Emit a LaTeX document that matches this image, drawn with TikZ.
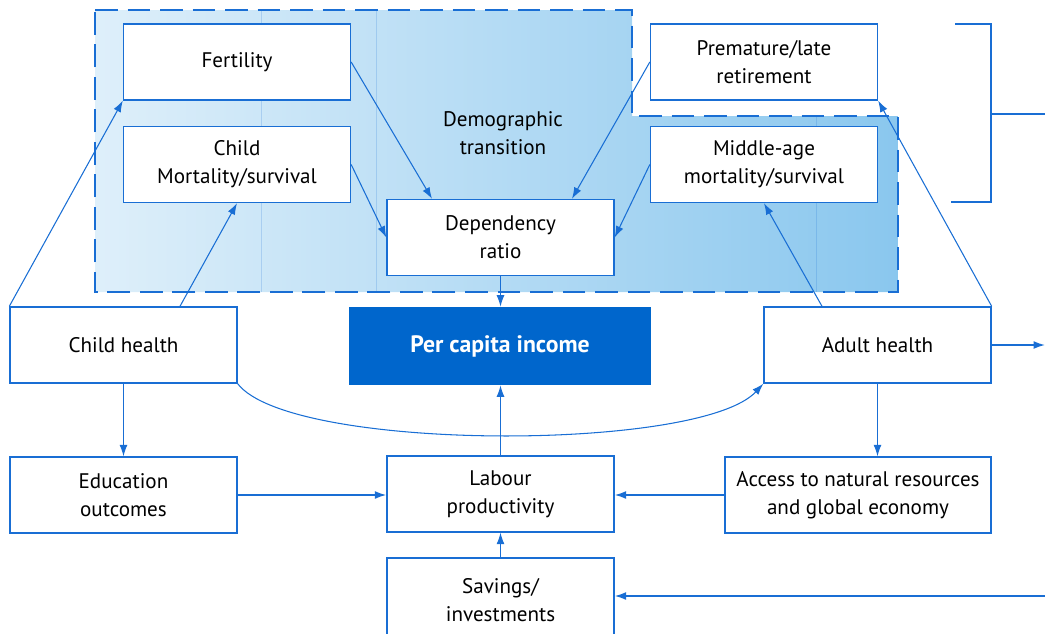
\documentclass[tikz,border=0pt]{standalone}
\usepackage{fontspec}
\setmainfont{PT Sans}
\usetikzlibrary{arrows.meta,positioning,calc}

\definecolor{lineblue}{RGB}{25,110,212}
\definecolor{incomeblue}{RGB}{0,102,204}
\definecolor{demlight}{RGB}{222,239,250}
\definecolor{demdark}{RGB}{138,199,238}

\tikzset{
  box/.style={draw=lineblue,line width=.8pt,fill=white,minimum width=4.54cm,minimum height=1.52cm,
    align=center,inner sep=2pt,font=\fontsize{12}{16}\selectfont},
  income/.style={fill=incomeblue,text=white,minimum width=6.04cm,minimum height=1.56cm,
    font=\fontsize{13.5}{16}\selectfont\bfseries},
  link/.style={draw=lineblue,line width=.6pt,-{Latex[length=6.5pt,width=4.5pt]}},
  thicklink/.style={link,line width=.9pt},
}

\begin{document}
\begin{tikzpicture}[x=.02cm,y=-.02cm]
\useasboundingbox (0,0) rectangle (1045,633);
\clip (0,0) rectangle (1045,633);

% demographic transition block
\shade[left color=demlight,right color=demdark]
  (95,10) -- (632,10) -- (632,116) -- (898,116) -- (898,292) -- (95,292) -- cycle;
\draw[lineblue,opacity=.2,line width=.5pt] (261,10) -- (261,292) (376,10) -- (376,292) (816,116) -- (816,292);
\draw[lineblue,line width=1.5pt,dash pattern=on 13pt off 5.5pt]
  (95,10) -- (632,10) -- (632,116) -- (898,116) -- (898,292) -- (95,292) -- cycle;
\node[font=\fontsize{12}{16}\selectfont,align=center] (demo) at (503,133) {Demographic\\transition};

\node[box] (fert) at (237,62) {Fertility};
\node[box] (cmort) at (237,164.5) {Child\\Mortality/survival};
\node[box] (dep) at (500.5,237.5) {Dependency\\ratio};
\node[box] (retire) at (764,62) {Premature/late\\retirement};
\node[box] (amort) at (764,164.5) {Middle-age\\mortality/survival};

\node[box] (child) at (123.5,345) {Child health};
\node[income] (inc) at (500,346) {Per capita income};
\node[box] (adult) at (877.5,345) {Adult health};
\node[box] (edu) at (123.5,495) {Education\\outcomes};
\node[box] (lab) at (500.5,494) {Labour\\productivity};
\node[box,minimum width=5.32cm] (acc) at (858,495) {Access to natural resources\\and global economy};
\node[box,minimum height=1.68cm] (sav) at (500.5,600) {Savings/\\investments};

% bracket on the right
\draw[lineblue,line width=.8pt] (955,24) -- (991,24) -- (991,202) -- (951,202);
\draw[lineblue,line width=.8pt] (991,114) -- (1045,114);

\coordinate (outA) at (1045,345);
\coordinate (inS) at (1045,596);

% links into the demographic block
\draw[link] (child.north west) -- (fert.south west);
\draw[link] ([xshift=1.13cm]child.north) -- (cmort.south);
\draw[link] (fert.east) -- ([xshift=-1.37cm]dep.north);
\draw[link] (cmort.east) -- (dep.west);
\draw[link] (retire.west) -- ([xshift=1.43cm]dep.north);
\draw[link] (amort.west) -- (dep.east);
\draw[link] ([xshift=-1.11cm]adult.north) -- (amort.south);
\draw[link] (adult.north east) -- (retire.south east);
\draw[link] (dep.south) -- (dep.south |- inc.north);

% lower links
\draw[link] (child.south) -- (edu.north);
\draw[link] (adult.south) -- (adult.south |- acc.north);
\draw[link] (child.south east) .. controls (290,452) and (700,452) .. (adult.south west);
\draw[link] (lab.north) -- (lab.north |- inc.south);
\draw[link] (sav.north) -- (lab.south);
\draw[thicklink] (edu.east) -- (edu.east -| lab.west);
\draw[thicklink] (acc.west) -- (acc.west -| lab.east);
\draw[thicklink] (adult.east) -- (outA);
\draw[thicklink] (inS) -- (inS -| sav.east);
\end{tikzpicture}
\end{document}
